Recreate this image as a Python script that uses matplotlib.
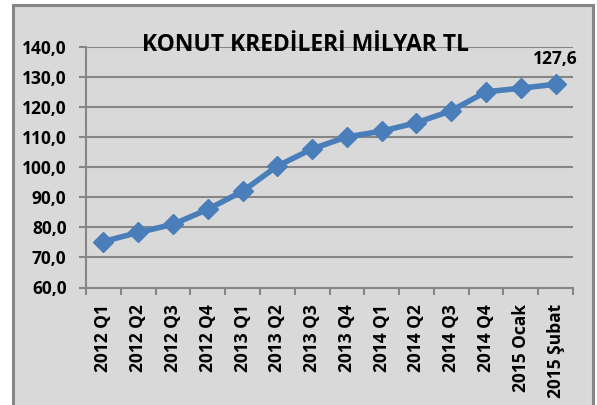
import matplotlib
matplotlib.use('Agg')
import matplotlib.pyplot as plt
from matplotlib.patches import Rectangle
import numpy as np

plt.rcParams['font.family'] = ['Open Sans', 'DejaVu Sans']
plt.rcParams['font.weight'] = 'bold'

# veriler
donemler = ['2012 Q1', '2012 Q2', '2012 Q3', '2012 Q4',
            '2013 Q1', '2013 Q2', '2013 Q3', '2013 Q4',
            '2014 Q1', '2014 Q2', '2014 Q3', '2014 Q4',
            '2015 Ocak', '2015 Şubat']
krediler = [75.3, 78.3, 81.0, 86.0, 92.0, 100.4, 106.1, 110.1,
            112.0, 114.8, 118.8, 125.1, 126.3, 127.6]
y_ticks = [60, 70, 80, 90, 100, 110, 120, 130, 140]

bg = '#D9D9D9'
grid_c = '#868686'
blue = '#4A7EBB'

fig = plt.figure(figsize=(5.97, 4.05), dpi=100, facecolor='white')

# dis cerceve
frame = Rectangle((12.5 / 597, -0.05), (593 - 12.5) / 597, 1.05 - 5 / 405,
                  transform=fig.transFigure, facecolor=bg, edgecolor=grid_c,
                  linewidth=2.2, zorder=-1)
fig.patches.append(frame)

ax = fig.add_axes([86 / 597, 1 - 287.5 / 405, (573 - 86) / 597, (287.5 - 47) / 405])
ax.set_zorder(1)
ax.set_facecolor(bg)

x = np.arange(len(donemler))
ax.plot(x, krediler, color=blue, linewidth=4, marker='D', markersize=10,
        markerfacecolor=blue, markeredgecolor=blue, zorder=3, clip_on=False)

# son deger etiketi
ax.annotate(f'{krediler[-1]:.1f}'.replace('.', ','), (x[-1], krediler[-1]),
            xytext=(0, 12), textcoords='offset points', ha='center', va='bottom',
            fontsize=12.5, fontweight='bold')

ax.set_ylim(60, 140)
ax.set_yticks(y_ticks)
ax.set_yticklabels([f'{v:.1f}'.replace('.', ',') for v in y_ticks])
ax.set_xlim(-0.5, len(donemler) - 0.5)
ax.set_xticks(x)
ax.set_xticklabels(donemler, rotation=90)
ax.set_xticks(np.arange(len(donemler) + 1) - 0.5, minor=True)

ax.yaxis.grid(True, color=grid_c, linewidth=1.5)
ax.set_axisbelow(True)
for s in ['top', 'right']:
    ax.spines[s].set_visible(False)
for s in ['left', 'bottom']:
    ax.spines[s].set_color(grid_c)
    ax.spines[s].set_linewidth(1.5)

ax.tick_params(axis='y', length=5, width=1.5, color=grid_c, pad=9, labelsize=12.5)
ax.tick_params(axis='x', which='major', length=0, pad=12, labelsize=12.5)
ax.tick_params(axis='x', which='minor', length=5, width=1.5, color=grid_c)

fig.text(306 / 597, 1 - 51 / 405, 'KONUT KREDİLERİ MİLYAR TL', ha='center',
         va='baseline', fontsize=16.5, fontweight='bold', zorder=5)

fig.savefig('out.png', dpi=100, facecolor='white')
